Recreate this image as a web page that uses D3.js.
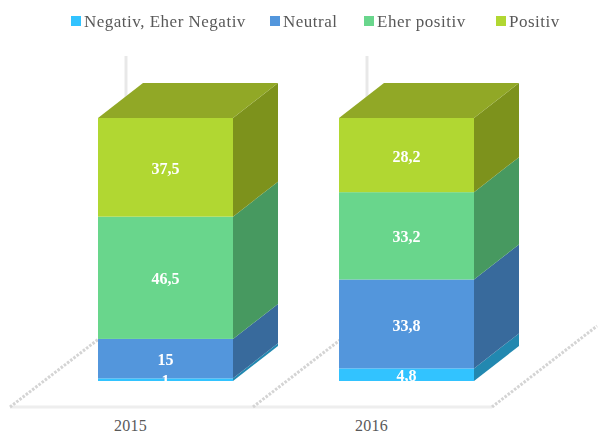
<!DOCTYPE html>
<html>
<head>
<meta charset="utf-8">
<script src="https://cdn.jsdelivr.net/npm/d3@7"></script>
<style>
  html, body { margin: 0; padding: 0; background: #fff; }
  text { font-family: "Liberation Serif", serif; }
</style>
</head>
<body>
<div id="chart"></div>
<script>
var years = ["2015", "2016"];
var seriesNames = ["Negativ, Eher Negativ", "Neutral", "Eher positiv", "Positiv"];
var negativ = [1, 4.8];
var neutral = [15, 33.8];
var eherPositiv = [46.5, 33.2];
var positiv = [37.5, 28.2];
var labels = [["1", "4,8"], ["15", "33,8"], ["46,5", "33,2"], ["37,5", "28,2"]];

var frontColors = ["#33c3ff", "#5296dc", "#69d68c", "#b1d732"];
var sideColors = ["#2388b0", "#376a9c", "#479960", "#7d921c"];
var topColor = "#91a827";

var width = 598, height = 433;
var depthX = 45, depthY = 35;
var values = [negativ, neutral, eherPositiv, positiv];

var svg = d3.select("#chart").append("svg")
    .attr("width", width)
    .attr("height", height)
    .style("display", "block");

var defs = svg.append("defs");
defs.append("filter").attr("id", "soft")
    .append("feGaussianBlur").attr("stdDeviation", 0.5);
defs.append("filter").attr("id", "softText")
    .append("feGaussianBlur").attr("stdDeviation", 0.25);

var x = d3.scaleBand().domain(years).range([10, 492]);
var y = d3.scaleLinear().domain([0, 100]).range([381, 118]);
var barWidth = 135;
var barLeft = function(yr) { return x(yr) + x.bandwidth() / 2 - 32.5; };

// floor and wall lines
var floor = svg.append("g").attr("filter", "url(#soft)");
floor.append("line")
    .attr("x1", 10).attr("x2", 492).attr("y1", 407).attr("y2", 407)
    .attr("stroke", "#eeeeee").attr("stroke-width", 3);
var diagEnds = [[10, 407, 100, 338], [253, 407, 340, 340], [492, 407, 597, 326]];
diagEnds.forEach(function(d) {
    floor.append("line")
        .attr("x1", d[0]).attr("y1", d[1]).attr("x2", d[2]).attr("y2", d[3])
        .attr("stroke", "#d4d4d4").attr("stroke-width", 3)
        .attr("stroke-dasharray", "2.5 1.5");
});
years.forEach(function(yr) {
    floor.append("line")
        .attr("x1", barLeft(yr) + 28).attr("x2", barLeft(yr) + 28)
        .attr("y1", 56).attr("y2", 100)
        .attr("stroke", "#e8e8e8").attr("stroke-width", 3);
});

// stacked 3d bars
var stackData = years.map(function(yr, i) {
    var row = { year: yr };
    seriesNames.forEach(function(s, j) { row[s] = values[j][i]; });
    return row;
});
var stacked = d3.stack().keys(seriesNames)(stackData);

var bars = svg.append("g").attr("filter", "url(#soft)");
stacked.forEach(function(layer, j) {
    layer.forEach(function(d) {
        var left = barLeft(d.data.year);
        var right = left + barWidth;
        var y0 = y(d[0]), y1 = y(d[1]);
        bars.append("path")
            .attr("d", d3.line()([[right, y0], [right + depthX, y0 - depthY], [right + depthX, y1 - depthY], [right, y1]]))
            .attr("fill", sideColors[j]);
        bars.append("rect")
            .attr("x", left).attr("y", y1)
            .attr("width", barWidth).attr("height", y0 - y1)
            .attr("fill", frontColors[j]);
        if (j === seriesNames.length - 1) {
            bars.append("path")
                .attr("d", d3.line()([[left, y1], [left + depthX, y1 - depthY], [right + depthX, y1 - depthY], [right, y1]]))
                .attr("fill", topColor);
        }
    });
});

// value labels
var valueLabels = svg.append("g").attr("filter", "url(#softText)");
stacked.forEach(function(layer, j) {
    layer.forEach(function(d, i) {
        valueLabels.append("text")
            .attr("x", barLeft(d.data.year) + barWidth / 2)
            .attr("y", (y(d[0]) + y(d[1])) / 2 + 1)
            .attr("dy", "0.35em")
            .attr("text-anchor", "middle")
            .attr("fill", "#ffffff")
            .attr("font-size", 16)
            .attr("font-weight", "bold")
            .text(labels[j][i]);
    });
});

// category axis
var axis = svg.append("g")
    .attr("transform", "translate(0,420)")
    .call(d3.axisBottom(x).tickSize(0).tickPadding(0));
axis.select(".domain").remove();
axis.selectAll("text")
    .attr("font-size", 16)
    .attr("fill", "#595959")
    .attr("letter-spacing", 0.3)
    .style("font-family", '"Liberation Serif", serif');

// legend
var legendX = [71, 270, 364, 496];
var legend = svg.append("g").attr("filter", "url(#softText)");
seriesNames.forEach(function(s, j) {
    legend.append("rect")
        .attr("x", legendX[j]).attr("y", 16)
        .attr("width", 10).attr("height", 10)
        .attr("fill", frontColors[j]);
    legend.append("text")
        .attr("x", legendX[j] + 13).attr("y", 27)
        .attr("font-size", 17)
        .attr("letter-spacing", 0.5)
        .attr("fill", "#595959")
        .text(s);
});
</script>
</body>
</html>
